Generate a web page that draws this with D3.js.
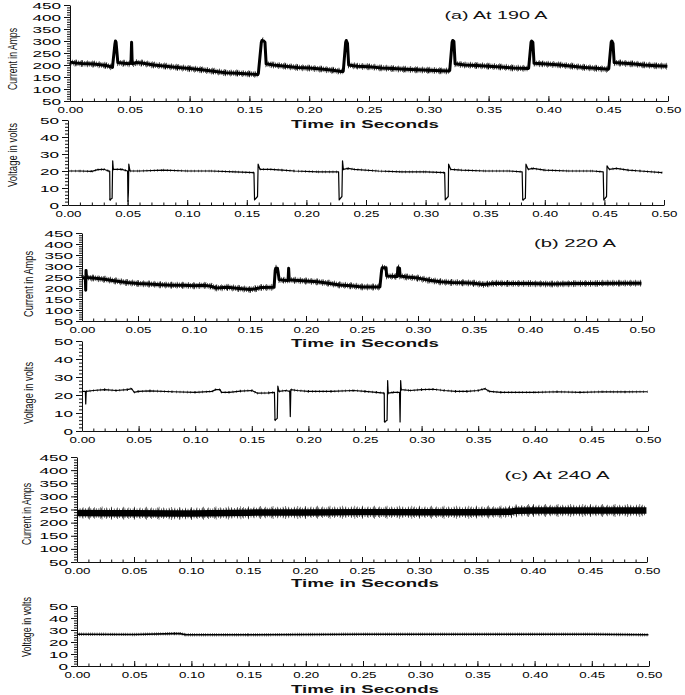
<!DOCTYPE html>
<html>
<head>
<meta charset="utf-8">
<style>
  body { margin: 0; background-color: white; }
  svg { display: block; background: white; }
  .tick text { font-family: "Liberation Sans", Arial, sans-serif; font-size: 9.5px; fill: #000; }
  .domain, .tick line { stroke: #111; stroke-width: 1; }
  .trace { fill: none; stroke: #000; stroke-linejoin: round; }
  .lab { font-family: "Liberation Sans Narrow", "Liberation Sans", Arial, sans-serif; fill: #111; }
</style>
</head>
<body>
<svg width="685" height="695"></svg>
<script src="https://cdn.jsdelivr.net/npm/d3@7"></script>
<script>

// ---- data: [time in s, value] ----
var currentA = [[0.000,212],[0.005,208],[0.010,206],[0.020,204],[0.030,198],[0.035,192],[0.0355,190],[0.0375,285],[0.038,300],[0.0385,295],[0.040,210],[0.045,207],[0.050,205],[0.051,210],[0.0515,295],[0.052,205],[0.055,210],[0.060,208],[0.070,200],[0.080,195],[0.090,190],[0.100,185],[0.110,180],[0.120,174],[0.130,168],[0.140,166],[0.150,163],[0.157,160],[0.1575,165],[0.1600,295],[0.1605,302],[0.162,300],[0.163,295],[0.164,205],[0.170,200],[0.180,195],[0.190,190],[0.200,187],[0.210,183],[0.220,178],[0.228,172],[0.2285,175],[0.2305,295],[0.231,302],[0.232,290],[0.233,200],[0.240,195],[0.250,193],[0.260,188],[0.270,185],[0.280,182],[0.290,180],[0.300,178],[0.310,176],[0.317,175],[0.3175,178],[0.3195,295],[0.320,302],[0.321,298],[0.322,205],[0.330,200],[0.340,198],[0.350,195],[0.360,192],[0.370,188],[0.383,185],[0.3835,187],[0.3855,295],[0.386,300],[0.387,295],[0.388,207],[0.395,205],[0.410,200],[0.420,195],[0.430,190],[0.440,186],[0.450,182],[0.4505,185],[0.4525,295],[0.453,300],[0.454,290],[0.455,210],[0.460,208],[0.470,205],[0.480,200],[0.490,197],[0.4995,195]];

var voltageA = [[0,20],[0.010,20],[0.020,19.8],[0.025,20.8],[0.030,21],[0.034,20],[0.035,20],[0.0352,3],[0.037,4],[0.0375,26],[0.038,21],[0.045,21],[0.050,20],[0.0503,2],[0.0507,8],[0.051,24],[0.052,20],[0.060,20],[0.080,20.5],[0.100,20],[0.120,20],[0.140,19.5],[0.156,19],[0.1565,3],[0.159,5],[0.1595,24],[0.161,21],[0.170,21],[0.180,20.5],[0.190,20],[0.210,19.5],[0.227,19.5],[0.2275,3],[0.2298,5],[0.2303,26],[0.231,21],[0.235,21.5],[0.240,21],[0.260,20],[0.280,19.5],[0.300,19.5],[0.316,19],[0.3165,3],[0.319,5],[0.3193,24],[0.321,21],[0.330,20.5],[0.350,20],[0.370,20],[0.381,19.5],[0.3815,3],[0.3837,4],[0.3842,24],[0.386,21],[0.390,21.5],[0.400,20.5],[0.420,20],[0.440,20],[0.449,19.5],[0.4495,3],[0.4518,5],[0.4522,23],[0.454,21],[0.460,21.5],[0.470,20.5],[0.480,20],[0.4985,19]];

var currentB = [[0,245],[0.003,248],[0.0033,190],[0.0036,280],[0.004,248],[0.010,245],[0.020,240],[0.030,232],[0.040,225],[0.050,220],[0.060,218],[0.070,215],[0.080,213],[0.090,212],[0.100,210],[0.110,212],[0.115,208],[0.120,200],[0.130,203],[0.140,198],[0.150,193],[0.155,197],[0.160,202],[0.1715,203],[0.1725,280],[0.173,290],[0.1745,290],[0.175,275],[0.176,238],[0.180,235],[0.184,234],[0.1845,290],[0.185,238],[0.190,235],[0.200,232],[0.210,228],[0.220,222],[0.230,214],[0.240,210],[0.250,205],[0.260,204],[0.266,205],[0.2675,280],[0.268,292],[0.2715,292],[0.272,255],[0.280,252],[0.2815,252],[0.282,292],[0.2835,290],[0.284,255],[0.290,250],[0.300,245],[0.310,235],[0.320,228],[0.330,225],[0.340,224],[0.350,222],[0.358,216],[0.362,218],[0.370,222],[0.380,220],[0.400,220],[0.420,218],[0.440,220],[0.460,221],[0.480,222],[0.4995,222]];

var voltageB = [[0,22],[0.003,22],[0.0033,15],[0.0037,22],[0.010,22.5],[0.020,23],[0.030,22.5],[0.040,23],[0.044,23.5],[0.046,21.5],[0.050,22],[0.060,22.3],[0.080,21.8],[0.100,21.5],[0.115,22],[0.118,23],[0.122,23],[0.123,21.5],[0.130,21.5],[0.140,22.2],[0.150,22.5],[0.155,21],[0.165,21.2],[0.170,21.5],[0.1705,6],[0.1725,7],[0.173,25],[0.174,22],[0.180,22.5],[0.1835,22],[0.184,8],[0.1845,23],[0.190,22.5],[0.200,22],[0.220,22],[0.240,22.5],[0.250,22],[0.260,21.5],[0.267,21],[0.2672,5],[0.2695,6],[0.270,28],[0.2705,21],[0.275,21.5],[0.2805,21.5],[0.281,5],[0.2815,28],[0.282,23],[0.290,22.5],[0.300,23],[0.310,23.2],[0.320,22.5],[0.330,22],[0.340,22],[0.350,22.5],[0.356,23.5],[0.360,22],[0.370,21.5],[0.400,21.5],[0.420,21.8],[0.440,21.5],[0.460,21.8],[0.480,21.7],[0.4995,21.8]];

var currentC = [[0,237],[0.030,236],[0.050,236],[0.090,235],[0.100,235],[0.150,238],[0.200,239],[0.250,240],[0.300,240],[0.350,240],[0.380,241],[0.385,245],[0.400,246],[0.450,246],[0.4995,246]];

var voltageC = [[0,26.5],[0.050,26.3],[0.085,27],[0.090,27],[0.095,26],[0.150,26],[0.250,26.5],[0.350,26.5],[0.450,26.5],[0.4995,26]];

var timeTicks = [0, 0.05, 0.10, 0.15, 0.20, 0.25, 0.30, 0.35, 0.40, 0.45, 0.50];
var currentTicks = [50, 100, 150, 200, 250, 300, 350, 400, 450];
var voltageTicks = [0, 10, 20, 30, 40, 50];

// ---- layout of the six panels ----
// fuzz: [width, dash pattern] layers that give the trace its noisy edge
var panels = [
  {data: currentA, yDom: [50, 450], yTicks: currentTicks, minor: 10, left: 70, right: 668, top: 5, bottom: 101,
   ylab: "Current in Amps", labX: 13, labY: 59, labLen: 62, title: "(a) At 190 A", tx: 496, ty: 19, tLen: 103, timeY: 128,
   core: 3, fuzz: [[5.5, "0.6 1.3"], [7, "0.5 4.7"]]},
  {data: voltageA, yDom: [0, 50], yTicks: voltageTicks, minor: 2, left: 68, right: 664, top: 120, bottom: 205,
   ylab: "Voltage in volts", labX: 13, labY: 155, labLen: 64, core: 1.2, fuzz: [[2.6, "0.5 3.1"]]},
  {data: currentB, yDom: [50, 450], yTicks: currentTicks, minor: 10, left: 82, right: 642, top: 233, bottom: 321,
   ylab: "Current in Amps", labX: 29, labY: 284, labLen: 66, title: "(b) 220 A", tx: 575, ty: 247, tLen: 82, timeY: 347,
   core: 3, fuzz: [[5.5, "0.6 1.3"], [7, "0.5 4.7"]]},
  {data: voltageB, yDom: [0, 50], yTicks: voltageTicks, minor: 2, left: 82, right: 648, top: 341, bottom: 431,
   ylab: "Voltage in volts", labX: 29, labY: 393, labLen: 62, core: 1.2, fuzz: [[2.6, "0.5 3.1"]]},
  {data: currentC, yDom: [50, 450], yTicks: currentTicks, minor: 10, left: 77, right: 647, top: 457, bottom: 562,
   ylab: "Current in Amps", labX: 27, labY: 514, labLen: 62, title: "(c) At 240 A", tx: 557, ty: 479, tLen: 105, timeY: 587,
   core: 6.5, fuzz: [[9.5, "0.6 2.1"], [11.5, "0.5 5.3"], [13, "0.5 11.9"]]},
  {data: voltageC, yDom: [0, 50], yTicks: voltageTicks, minor: 2, left: 77, right: 649, top: 606, bottom: 666,
   ylab: "Voltage in volts", labX: 27, labY: 627, labLen: 60, timeY: 693, core: 1.6, fuzz: [[3.4, "0.5 1.7"]]}
];

var svg = d3.select("svg");

function stretch(sel, k) {
  sel.each(function() {
    var w = this.getComputedTextLength();
    d3.select(this).attr("textLength", w * k).attr("lengthAdjust", "spacingAndGlyphs");
  });
}

panels.forEach(function(p) {
  var x = d3.scaleLinear().domain([0, 0.5]).range([p.left, p.right]);
  var y = d3.scaleLinear().domain(p.yDom).range([p.bottom, p.top]);
  var g = svg.append("g");

  // minor ticks
  g.append("g")
      .attr("transform", "translate(0," + p.bottom + ")")
      .call(d3.axisBottom(x).tickValues(d3.range(0, 0.501, 0.01)).tickSizeInner(-2.5).tickSizeOuter(0).tickFormat(""))
      .call(function(a) { a.select(".domain").remove(); });
  g.append("g")
      .attr("transform", "translate(" + p.left + ",0)")
      .call(d3.axisLeft(y).tickValues(d3.range(p.yDom[0], p.yDom[1] + 0.01, p.minor)).tickSizeInner(3).tickSizeOuter(0).tickFormat(""))
      .call(function(a) { a.select(".domain").remove(); });

  // major axes
  var xa = g.append("g")
      .attr("transform", "translate(0," + p.bottom + ")")
      .call(d3.axisBottom(x).tickValues(timeTicks).tickSizeInner(-5).tickSizeOuter(0).tickPadding(5).tickFormat(d3.format(".2f")));
  var ya = g.append("g")
      .attr("transform", "translate(" + p.left + ",0)")
      .call(d3.axisLeft(y).tickValues(p.yTicks).tickSizeInner(6).tickSizeOuter(0).tickPadding(3));
  stretch(xa.selectAll("text"), 1.4);
  stretch(ya.selectAll("text"), 1.8);

  // trace
  var line = d3.line().x(function(d) { return x(d[0]); }).y(function(d) { return y(d[1]); });

  // the noisy fuzz only goes on shallow segments, so spikes stay clean
  var flat = "";
  for (var i = 1; i < p.data.length; i++) {
    var a = p.data[i - 1], b = p.data[i];
    var dx = Math.abs(x(b[0]) - x(a[0])), dy = Math.abs(y(b[1]) - y(a[1]));
    if (dy <= dx * 0.8) flat += line([a, b]);
  }
  p.fuzz.forEach(function(f) {
    g.append("path").attr("class", "trace")
        .attr("d", flat)
        .attr("stroke-width", f[0])
        .attr("stroke-linecap", "butt")
        .attr("stroke-dasharray", f[1]);
  });
  g.append("path").datum(p.data).attr("class", "trace")
      .attr("d", line)
      .attr("stroke-width", p.core);

  // y label
  g.append("text").attr("class", "lab")
      .attr("transform", "translate(" + p.labX + "," + p.labY + ") rotate(-90)")
      .attr("text-anchor", "middle").attr("dy", "0.35em")
      .style("font-size", "12px")
      .attr("textLength", p.labLen).attr("lengthAdjust", "spacingAndGlyphs")
      .text(p.ylab);

  if (p.title) {
    g.append("text")
        .attr("x", p.tx).attr("y", p.ty)
        .attr("text-anchor", "middle")
        .style("font", "10px 'Liberation Sans', Arial, sans-serif").style("fill", "#111")
        .attr("textLength", p.tLen).attr("lengthAdjust", "spacingAndGlyphs")
        .text(p.title);
  }
  if (p.timeY) {
    g.append("text")
        .attr("x", 365).attr("y", p.timeY)
        .attr("text-anchor", "middle")
        .style("font", "bold 11px 'Liberation Sans', Arial, sans-serif").style("fill", "#111")
        .attr("textLength", 148).attr("lengthAdjust", "spacingAndGlyphs")
        .text("Time in Seconds");
  }
});

</script>
</body>
</html>
